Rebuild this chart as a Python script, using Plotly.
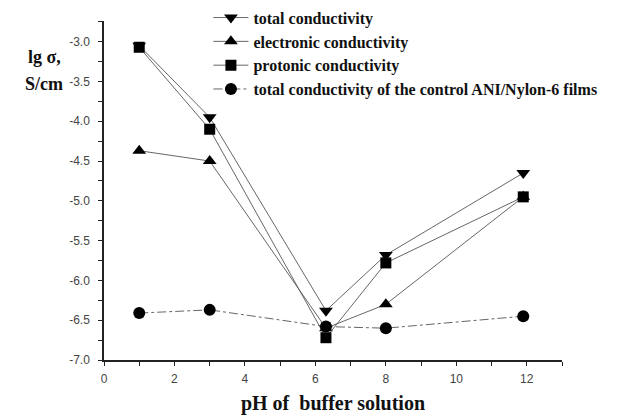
import plotly.graph_objects as go

ph = [1, 3, 6.3, 8, 11.9]
total = [-3.05, -3.95, -6.38, -5.68, -4.65]
electronic = [-4.37, -4.50, -6.60, -6.30, -4.95]
protonic = [-3.07, -4.10, -6.72, -5.78, -4.95]
control = [-6.41, -6.37, -6.58, -6.60, -6.45]

names = ["total conductivity", "electronic conductivity", "protonic conductivity",
         "total conductivity of the control ANI/Nylon-6 films"]
symbols = ["triangle-down", "triangle-up", "square", "circle"]
series = [total, electronic, protonic, control]
dashes = ["solid", "solid", "solid", "dashdot"]

x_ticks = [0, 2, 4, 6, 8, 10, 12]
y_ticks = [-7.0, -6.5, -6.0, -5.5, -5.0, -4.5, -4.0, -3.5, -3.0]
y_ticktext = ["%.1f" % v for v in y_ticks]

fig = go.Figure()
for nm, sym, ys, d in zip(names, symbols, series, dashes):
    fig.add_trace(go.Scatter(
        x=ph, y=ys, name=nm, mode="lines+markers",
        line=dict(color="#555555", width=0.9, dash=d),
        marker=dict(symbol=sym, size=12 if sym != "square" else 11, color="black"),
    ))

serif = "Liberation Serif"
fig.update_layout(
    width=636, height=416,
    margin=dict(l=104, r=74, t=21, b=56, autoexpand=False),
    plot_bgcolor="white", paper_bgcolor="white",
    showlegend=True,
    legend=dict(x=0.228, y=1.06, xanchor="left", yanchor="top",
                bgcolor="rgba(0,0,0,0)",
                font=dict(family=serif, size=16, color="#111111", weight="bold"),
                tracegroupgap=0, itemwidth=35),
    xaxis=dict(range=[0, 13], tickvals=x_ticks, showgrid=False, automargin=False,
               zeroline=False, showline=True, linecolor="#222222", linewidth=1.5,
               ticks="outside", ticklen=4, tickcolor="#222222", ticklabelstandoff=3,
               minor=dict(tickvals=[1, 3, 5, 7, 9, 11, 13], ticks="outside", ticklen=4, tickcolor="#222222"),
               tickfont=dict(family="Liberation Sans", size=12, color="#444444"),
               title=dict(text="pH of  buffer solution", standoff=11,
                          font=dict(family=serif, size=20, color="#111111", weight="bold"))),
    yaxis=dict(range=[-7.0, -2.74], tickvals=y_ticks, ticktext=y_ticktext, automargin=False,
               showgrid=False, zeroline=False, showline=True,
               linecolor="#222222", linewidth=1.5, ticks="outside", ticklen=4, tickcolor="#222222",
               ticklabelstandoff=6,
               minor=dict(tickvals=[-6.75, -6.25, -5.75, -5.25, -4.75, -4.25, -3.75, -3.25, -2.75],
                          ticks="outside", ticklen=4, tickcolor="#222222"),
               tickfont=dict(family="Liberation Sans", size=12, color="#444444")),
    annotations=[
        dict(text="lg σ,", xref="paper", yref="paper", x=-0.131, y=0.894,
             xanchor="center", yanchor="middle", showarrow=False,
             font=dict(family=serif, size=18, color="#111111", weight="bold")),
        dict(text="S/cm", xref="paper", yref="paper", x=-0.131, y=0.814,
             xanchor="center", yanchor="middle", showarrow=False,
             font=dict(family=serif, size=18, color="#111111", weight="bold")),
    ],
)

fig.write_html("out.html")
